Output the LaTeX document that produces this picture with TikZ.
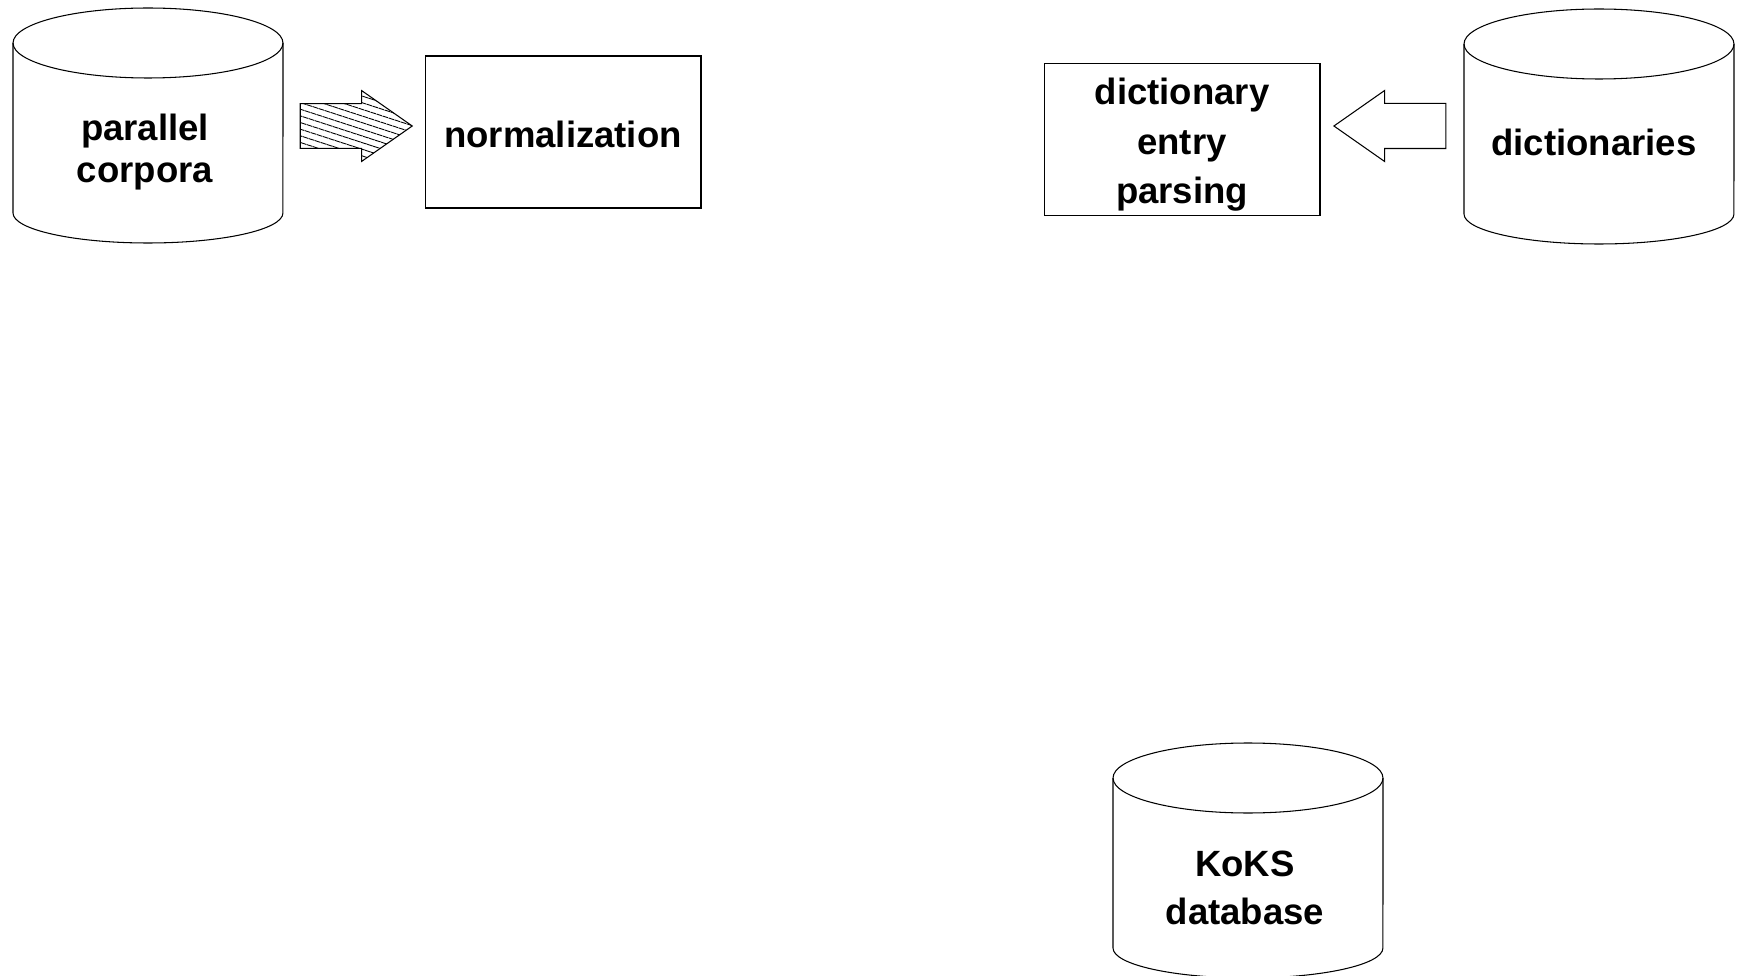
\documentclass[tikz,border=0pt]{standalone}
\usepackage{fontspec}
\setmainfont{Liberation Sans}
\usepackage{tikz}
\usetikzlibrary{shapes.arrows,patterns.meta}

\begin{document}
\begin{tikzpicture}[x=0.02cm,y=-0.02cm,line width=0.6pt,txt/.style={align=center,inner sep=0pt,font=\bfseries\fontsize{20.8}{24}\selectfont},box/.style={draw,rectangle,minimum width=5.52cm,minimum height=3.04cm},blockarrow/.style={draw,single arrow,inner xsep=0pt,inner ysep=0.44cm,minimum height=2.24cm,single arrow head extend=0.26cm,single arrow tip angle=70,anchor=tip}]
\useasboundingbox (0,0) rectangle (1742,976);
% databases
\foreach \x/\y in {13/8,1464/9,1113/743}{
\draw (\x,\y+35) -- (\x,\y+205) arc[start angle=180,end angle=360,x radius=2.7cm,y radius=0.6cm] -- (\x+270,\y+35);
\draw (\x+135,\y+35) ellipse[x radius=2.7cm,y radius=0.7cm];
}
\node[txt] (corp) at (145,152) {parallel\\[-0.5pt]corpora};
\node[txt] (dicts) at (1594,142) {dictionaries};
\node[txt] (koks) at (1245,888) {KoKS\\[3pt]database};
% processing steps
\node[box] (norm) at (563,132) {};
\node[txt] (normtxt) at (563,134) {normalization};
\node[box] (parse) at (1182,139.5) {};
\node[txt] (parsetxt) at (1182,145) {dictionary\\[4.1pt]entry\\[4.1pt]parsing};
\node[blockarrow,pattern={Lines[angle=-18,distance=3.6pt,line width=0.5pt]}] (hatch) at (413,126) {};
\node[blockarrow,shape border rotate=180] (hollow) at (1333,126) {};
\end{tikzpicture}
\end{document}
